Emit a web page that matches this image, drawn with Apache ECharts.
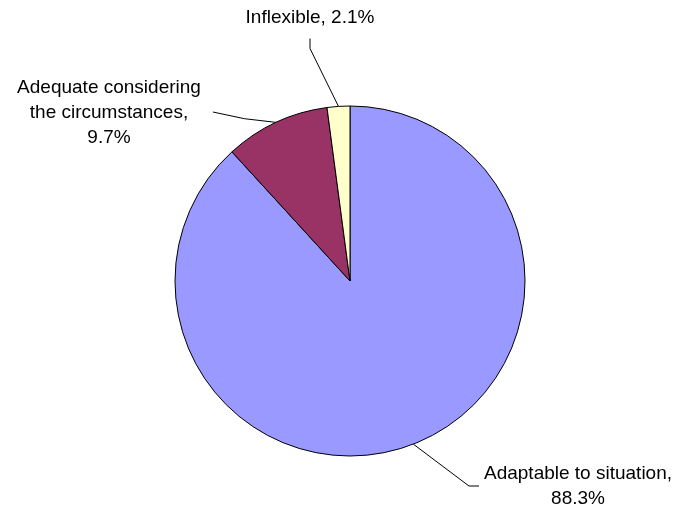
<!DOCTYPE html>
<html>
<head>
<meta charset="utf-8">
<script src="https://cdn.jsdelivr.net/npm/echarts@6/dist/echarts.min.js"></script>
<style>
  html, body { margin: 0; padding: 0; background: #fff; }
  #chart { width: 678px; height: 508px; }
</style>
</head>
<body>
<div id="chart"></div>
<script>
// Survey responses, in percent, listed clockwise from 12 o'clock
const categories = ['Adaptable to situation', 'Adequate considering\nthe circumstances', 'Inflexible'];
const values = [88.3, 9.7, 2.1];
const colors = ['#9999FF', '#993366', '#FFFFCC'];

// Where each label block is centred, how its leader line runs,
// and whether the value goes on its own line
const labelPlacement = [
  { x: 578, y: 486, leader: 'side', wrap: true },
  { x: 109, y: 113, leader: 'straight', wrap: true },
  { x: 310, y: 18, leader: 'below', wrap: false }
];

const chart = echarts.init(document.getElementById('chart'), null, { renderer: 'canvas' });

chart.setOption({
  backgroundColor: '#ffffff',
  animation: false,
  series: [{
    type: 'pie',
    center: [350, 281],
    radius: 175,
    startAngle: 90,
    clockwise: true,
    avoidLabelOverlap: false,
    data: categories.map((name, i) => ({
      name: name,
      value: values[i],
      itemStyle: { color: colors[i] }
    })),
    itemStyle: { borderColor: '#000000', borderWidth: 1 },
    emphasis: { disabled: true },
    label: {
      show: true,
      position: 'outside',
      formatter: p => p.name + (labelPlacement[p.dataIndex].wrap ? ',\n' : ', ') + p.value.toFixed(1) + '%',
      fontFamily: '"Liberation Sans", Arial, sans-serif',
      fontSize: 19,
      lineHeight: 25,
      color: '#000000',
      align: 'center'
    },
    labelLine: {
      show: true,
      length: 20,
      length2: 10,
      lineStyle: { color: '#000000', width: 1 }
    },
    labelLayout: function (params) {
      const spot = labelPlacement[params.dataIndex];
      const w = params.labelRect.width;
      const h = params.labelRect.height;
      const p0 = params.labelLinePoints ? params.labelLinePoints[0] : [spot.x, spot.y];
      let pts;
      if (spot.leader === 'side') {
        const left = spot.x - w / 2;
        pts = [p0, [left - 15, spot.y], [left - 5, spot.y]];
      } else if (spot.leader === 'straight') {
        const right = spot.x + w / 2;
        const end = [right + 12, spot.y - 1];
        pts = [p0, [(p0[0] + end[0]) / 2, (p0[1] + end[1]) / 2 + 1.5], end];
      } else {
        const bottom = spot.y + h / 2;
        pts = [p0, [spot.x, bottom + 18], [spot.x, bottom + 8]];
      }
      return {
        x: spot.x,
        y: spot.y,
        align: 'center',
        verticalAlign: 'middle',
        labelLinePoints: pts
      };
    }
  }]
});
</script>
</body>
</html>
